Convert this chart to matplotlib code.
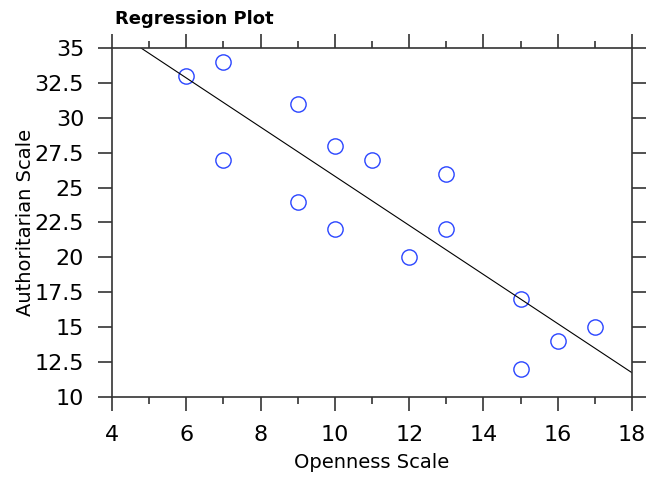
import matplotlib.pyplot as plt
import numpy as np
from matplotlib.ticker import MultipleLocator

openness = [6, 7, 7, 9, 9, 10, 10, 11, 12, 13, 13, 15, 15, 16, 17]
authoritarian = [33, 34, 27, 31, 24, 28, 22, 27, 20, 26, 22, 17, 12, 14, 15]
ytick_vals = [10, 12.5, 15, 17.5, 20, 22.5, 25, 27.5, 30, 32.5, 35]
ytick_labels = ['10', '12.5', '15', '17.5', '20', '22.5', '25', '27.5', '30', '32.5', '35']

plt.rcParams['font.family'] = 'DejaVu Sans'

fig = plt.figure(figsize=(6.55, 4.79), dpi=100)
ax = fig.add_axes([0.171, 0.171, 0.794, 0.729])

ax.plot(openness, authoritarian, 'o', mfc='none', mec='#2a45ff', ms=11, mew=1.0)

# least squares line across the whole x range
popt = np.polyfit(openness, authoritarian, 1)
xn = np.linspace(4, 18, 50)
ax.plot(xn, np.polyval(popt, xn), color='black', lw=0.8)

ax.set_xlim(4, 18)
ax.set_ylim(10, 35)
ax.xaxis.set_major_locator(MultipleLocator(2))
ax.xaxis.set_minor_locator(MultipleLocator(1))
ax.set_yticks(ytick_vals)
ax.set_yticklabels(ytick_labels)

ax.tick_params(which='both', direction='out', top=True, right=True, labeltop=False, labelright=False,
               color='#333333', width=1.2, labelsize=16)
ax.tick_params(which='major', length=10)
ax.tick_params(which='minor', length=5)
ax.tick_params(axis='x', pad=10)
ax.tick_params(axis='y', pad=10)
for s in ax.spines.values():
    s.set_linewidth(1.2)
    s.set_color('#333333')

ax.set_xlabel('Openness Scale', fontsize=14, labelpad=6)
ax.set_ylabel('Authoritarian Scale', fontsize=14, labelpad=0)
fig.text(0.175, 0.960, 'Regression Plot', fontsize=13, fontweight='bold', va='center', ha='left')

fig.savefig('out.png', dpi=100)
